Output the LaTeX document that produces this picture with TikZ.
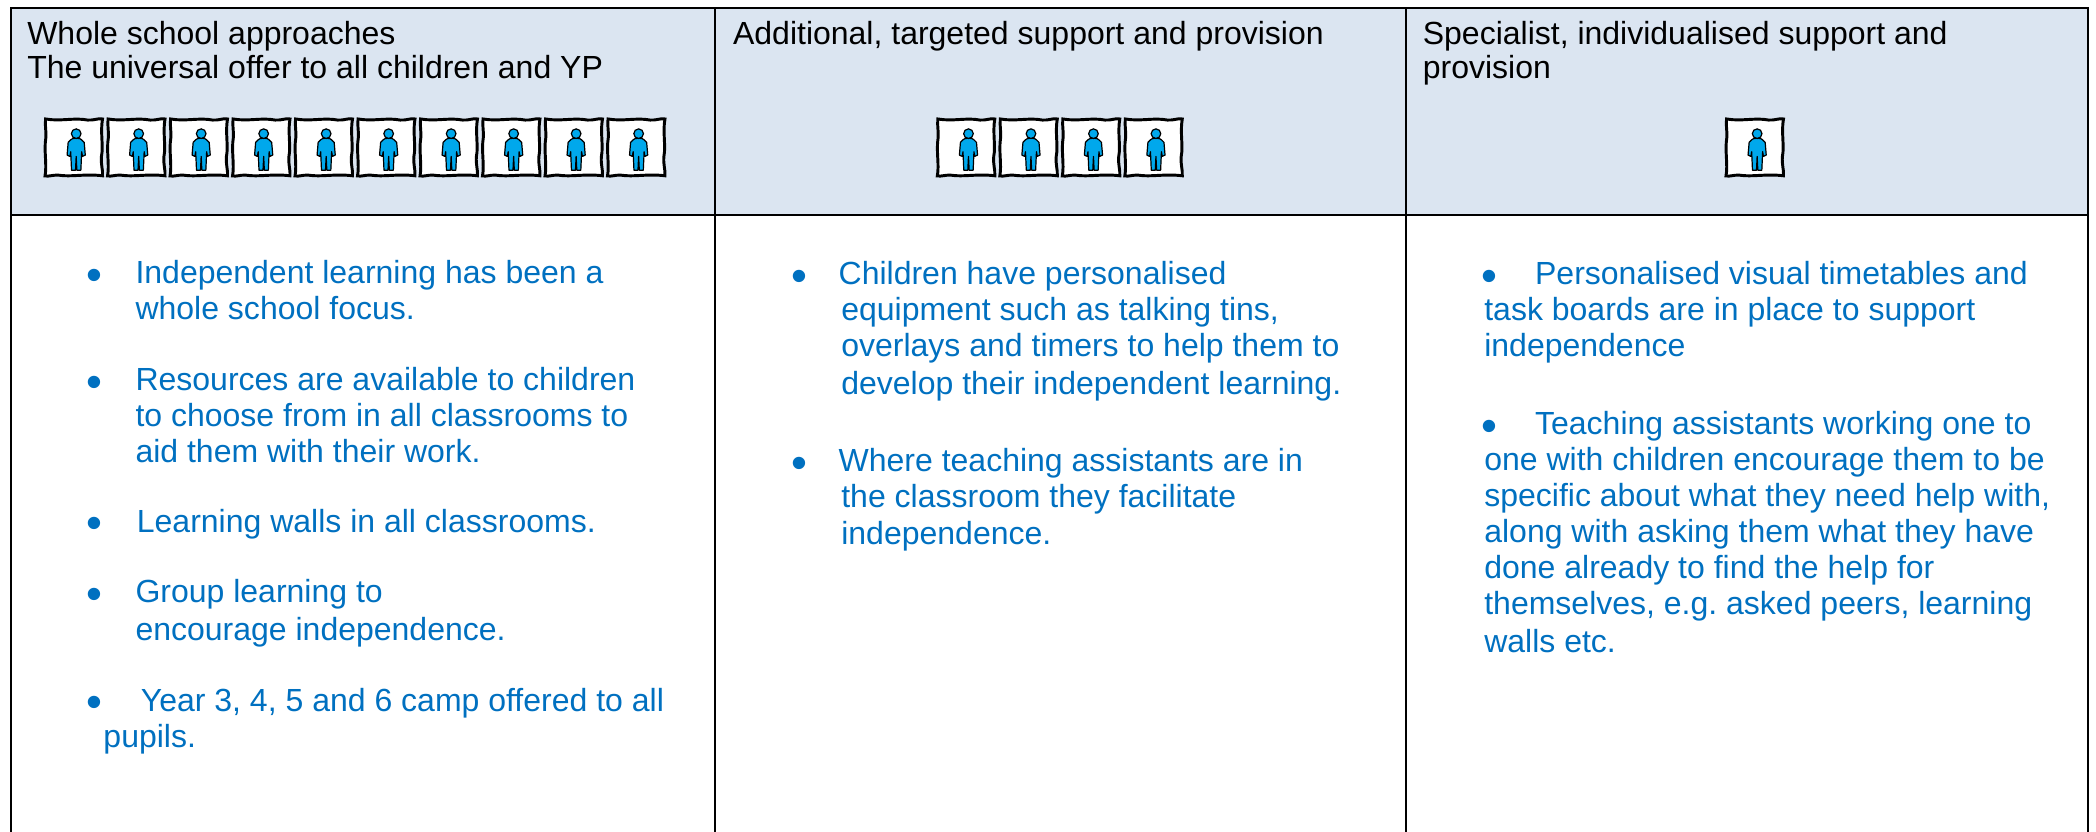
\documentclass[tikz,border=0pt]{standalone}
\usepackage{fontspec}
\setmainfont{Liberation Sans}
\definecolor{headfill}{HTML}{DBE5F1}
\definecolor{bodyblue}{HTML}{0070C0}
\definecolor{kidblue}{HTML}{00A8EC}
\tikzset{
  x=.5pt,y=-.5pt,
  rule/.style={line width=.85pt,black},
  headtxt/.style={anchor=base west,inner sep=0pt,font=\fontsize{11.97}{14}\selectfont,text=black},
  bodytxt/.style={anchor=base west,inner sep=0pt,font=\fontsize{11.97}{14}\selectfont,text=bodyblue},
  bul/.style={anchor=base,inner sep=0pt,font=\fontsize{17}{19}\selectfont,text=bodyblue},
  kid/.pic={
    \draw[line width=1.1pt,fill=white,line join=miter]
      (.6,0) .. controls (12,2) and (22,-1.2) .. (32,.8) .. controls (37,1.2) and (40,-.8) .. (43.2,0)
      .. controls (41.4,10) and (44,20) .. (42.4,28) .. controls (41.8,34) and (43.6,38) .. (43.2,42.5)
      .. controls (30,40.8) and (20,43.6) .. (10,42) .. controls (6,41.8) and (3,43.2) .. (.2,42.6)
      .. controls (1.8,34) and (-.8,24) .. (.8,14) .. controls (1.2,9) and (0,5) .. (.6,0) -- cycle;
    \draw[line width=.45pt,fill=kidblue,line join=round]
      (19.5,15.5) .. controls (20,14) and (27,14) .. (27.5,15.5)
      -- (29.5,17.5) -- (30.3,27) -- (28.2,28) -- (27.6,24.5) -- (27,38.3) -- (24,38.3) -- (23.5,28) -- (23,38.3) -- (20,38.3) -- (19.4,24.5) -- (18.8,28) -- (16.7,27) -- (17.5,17.5) -- cycle;
    \draw[line width=.45pt,fill=kidblue] (23.5,11) circle[radius=3.6];
  }
}
\newcommand{\tl}[4]{\node[bodytxt] (#1) at (#2,#3) {#4};}
\newcommand{\hl}[4]{\node[headtxt] (#1) at (#2,#3) {#4};}
\newcommand{\bl}[3]{\node[bul] (#1) at (#2,#3+5) {•};}
\begin{document}
\frenchspacing
\begin{tikzpicture}
\useasboundingbox (0,0) rectangle (1568,622.4);
% header band
\fill[headfill] (8,6) rectangle (1562,161);
% rules
\draw[rule] (8,622.4) -- (8,6) -- (1562,6) -- (1562,622.4);
\draw[rule] (8,161) -- (1562,161);
\draw[rule] (535,6) -- (535,622.4);
\draw[rule] (1052,6) -- (1052,622.4);
% header text
\hl{ha}{20}{33}{Whole school approaches}
\hl{hb}{20}{59}{The universal offer to all children and YP}
\hl{hc}{548}{33}{Additional, targeted support and provision}
\hl{hd}{1064}{33}{Specialist, individualised support and}
\hl{he}{1064}{59}{provision}
% icons
\foreach \i in {0,...,9} \pic at ({33.5+46.75*\i},89) {kid};
\foreach \i in {0,...,3} \pic at ({701+46.75*\i},89) {kid};
\pic at (1291,89) {kid};
% column 1
\bl{ba}{71}{212}
\tl{a1}{101}{212}{Independent learning has been a}
\tl{a2}{101}{239}{whole school focus.}
\bl{bb}{71}{292}
\tl{b1}{101}{292}{Resources are available to children}
\tl{b2}{101}{319}{to choose from in all classrooms to}
\tl{b3}{101}{346}{aid them with their work.}
\bl{bc}{71}{398}
\tl{c1}{102}{398}{Learning walls in all classrooms.}
\bl{bd}{71}{451}
\tl{d1}{101}{451}{Group learning to}
\tl{d2}{101}{479}{encourage independence.}
\bl{be}{71}{532}
\tl{e1}{105}{532}{Year 3, 4, 5 and 6 camp offered to all}
\tl{e2}{77}{559}{pupils.}
% column 2
\bl{bf}{598}{213}
\tl{f1}{627}{213}{Children have personalised}
\tl{f2}{629}{240}{equipment such as talking tins,}
\tl{f3}{629}{267}{overlays and timers to help them to}
\tl{f4}{629}{295}{develop their independent learning.}
\bl{bg}{598}{353}
\tl{g1}{627}{353}{Where teaching assistants are in}
\tl{g2}{629}{380}{the classroom they facilitate}
\tl{g3}{629}{407}{independence.}
% column 3
\bl{bh}{1114.5}{213}
\tl{h1}{1148}{213}{Personalised visual timetables and}
\tl{h2}{1110}{240}{task boards are in place to support}
\tl{h3}{1110}{267}{independence}
\bl{bi}{1114.5}{325}
\tl{i1}{1148}{325}{Teaching assistants working one to}
\tl{i2}{1110}{352}{one with children encourage them to be}
\tl{i3}{1110}{379}{specific about what they need help with,}
\tl{i4}{1110}{406}{along with asking them what they have}
\tl{i5}{1110}{433}{done already to find the help for}
\tl{i6}{1110}{460}{themselves, e.g. asked peers, learning}
\tl{i7}{1110}{488}{walls etc.}
\end{tikzpicture}
\end{document}
